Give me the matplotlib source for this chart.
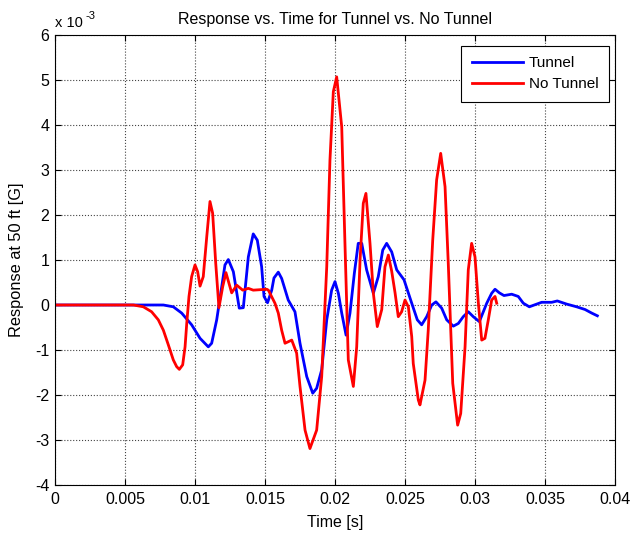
import numpy as np
import matplotlib
matplotlib.use("Agg")
import matplotlib.pyplot as plt
from matplotlib.ticker import FuncFormatter

plt.rcParams['font.family'] = ['Liberation Sans', 'DejaVu Sans']

# Tunnel series: time in ms, response in units of 1e-3 G
tunnel_t_ms = [0, 7.74, 8.45, 9.05, 9.76, 10.36, 10.95, 11.19, 11.55, 11.91, 12.14, 12.38,
               12.74, 13.16, 13.45, 13.81, 14.16, 14.45, 14.76, 14.93, 15.18, 15.48, 15.64, 15.95,
               16.19, 16.66, 17.14, 17.5, 17.98, 18.41, 18.69, 19.05, 19.41, 19.76, 20.0, 20.24,
               20.48, 20.79, 21.07, 21.38, 21.66, 21.91, 22.26, 22.74, 23.09, 23.41, 23.69, 24.05,
               24.41, 24.93, 25.48, 25.88, 26.19, 26.55, 26.91, 27.21, 27.62, 27.98, 28.45, 28.81,
               29.16, 29.52, 29.88, 30.31, 30.84, 31.19, 31.43, 31.74, 32.07, 32.62, 33.09, 33.45,
               33.88, 34.76, 35.48, 35.88, 36.55, 37.26, 37.86, 38.34, 38.74]
tunnel_resp = [0, 0, -0.04, -0.18, -0.44, -0.74, -0.93, -0.85, -0.33, 0.41, 0.89, 1.01,
               0.74, -0.07, -0.06, 1.07, 1.58, 1.44, 0.85, 0.19, 0.05, 0.33, 0.60, 0.73,
               0.59, 0.11, -0.15, -0.85, -1.59, -1.96, -1.85, -1.44, -0.33, 0.33, 0.52, 0.26,
               -0.18, -0.67, -0.18, 0.70, 1.37, 1.37, 0.78, 0.26, 0.63, 1.22, 1.37, 1.18,
               0.78, 0.56, 0.04, -0.33, -0.44, -0.26, 0.0, 0.07, -0.07, -0.33, -0.47, -0.41,
               -0.26, -0.15, -0.26, -0.37, 0.04, 0.26, 0.35, 0.27, 0.21, 0.24, 0.19, 0.04,
               -0.04, 0.06, 0.06, 0.09, 0.02, -0.04, -0.10, -0.18, -0.24]

# No Tunnel series
notunnel_t_ms = [0, 5.6, 6.31, 6.9, 7.38, 7.74, 8.1, 8.45, 8.69, 8.88, 9.12, 9.29, 9.41, 9.57,
                 9.76, 10.0, 10.19, 10.36, 10.59, 10.84, 11.07, 11.26, 11.48, 11.71, 11.98, 12.21,
                 12.62, 12.98, 13.41, 13.81, 14.16, 15.12, 15.24, 15.71, 15.95, 16.19, 16.43,
                 16.91, 17.26, 17.5, 17.86, 18.21, 18.69, 19.05, 19.41, 19.64, 19.88, 20.12,
                 20.48, 20.71, 20.95, 21.31, 21.55, 21.79, 22.02, 22.21, 22.5, 22.74, 23.02,
                 23.34, 23.57, 23.81, 24.05, 24.29, 24.52, 24.76, 25.0, 25.24, 25.48, 25.59,
                 25.95, 26.07, 26.43, 26.66, 26.98, 27.26, 27.55, 27.86, 28.09, 28.41, 28.76,
                 28.98, 29.29, 29.52, 29.76, 30.0, 30.24, 30.48, 30.71, 30.95, 31.19, 31.43, 31.55]
notunnel_resp = [0, 0, -0.04, -0.15, -0.33, -0.56, -0.89, -1.22, -1.37, -1.43, -1.33, -0.93, -0.41, 0.19,
                 0.63, 0.89, 0.74, 0.42, 0.63, 1.52, 2.30, 2.04, 0.93, -0.06, 0.41, 0.72,
                 0.27, 0.44, 0.33, 0.37, 0.33, 0.35, 0.33, 0.04, -0.18, -0.56, -0.85,
                 -0.78, -1.07, -1.81, -2.78, -3.19, -2.78, -1.59, 0.85, 3.22, 4.74, 5.07,
                 3.96, 1.38, -1.22, -1.81, -0.93, 1.0, 2.26, 2.48, 1.37, 0.26, -0.48,
                 -0.10, 0.85, 1.11, 0.75, 0.27, -0.26, -0.15, 0.11, -0.04, -0.70, -1.30,
                 -2.11, -2.22, -1.67, -0.56, 1.44, 2.78, 3.37, 2.63, 0.93, -1.74, -2.67,
                 -2.41, -0.93, 0.78, 1.37, 1.07, 0.04, -0.78, -0.74, -0.33, 0.11, 0.19, 0.04]

x_ticks = [0, 0.005, 0.01, 0.015, 0.02, 0.025, 0.03, 0.035, 0.04]
y_ticks = [-4, -3, -2, -1, 0, 1, 2, 3, 4, 5, 6]

fig = plt.figure(figsize=(6.33, 5.33), dpi=100)
ax = fig.add_axes([55/633, 1-485/533, 560/633, 450/533])

ax.plot(np.array(tunnel_t_ms) / 1000, tunnel_resp, color=(0, 0, 1), lw=2.0, label='Tunnel')
ax.plot(np.array(notunnel_t_ms) / 1000, notunnel_resp, color=(1, 0, 0), lw=2.0, label='No Tunnel')

ax.set_xlim(0, 0.04)
ax.set_ylim(-4, 6)
ax.set_xticks(x_ticks)
ax.set_yticks(y_ticks)
ax.xaxis.set_major_formatter(FuncFormatter(lambda v, p: '%g' % v))
ax.yaxis.set_major_formatter(FuncFormatter(lambda v, p: '%d' % round(v)))
ax.tick_params(direction='in', top=True, right=True, labelsize=11.5, length=4)
ax.tick_params(axis='x', pad=5)
ax.tick_params(axis='y', pad=4)
ax.grid(True, linestyle=':', color='#444444', linewidth=0.8)
for s in ax.spines.values():
    s.set_linewidth(0.8)

ax.set_title('Response vs. Time for Tunnel vs. No Tunnel', fontsize=11.5, pad=8)
ax.set_xlabel('Time [s]', fontsize=11.5, labelpad=6)
ax.set_ylabel('Response at 50 ft [G]', fontsize=11.8, labelpad=8)
ax.text(0.0, 1.012, 'x 10', transform=ax.transAxes, fontsize=10.5, ha='left', va='bottom')
ax.text(0.055, 1.031, '-3', transform=ax.transAxes, fontsize=8, ha='left', va='bottom')

leg = ax.legend(loc='upper right', bbox_to_anchor=(609/633, 1-45.7/533),
                bbox_transform=fig.transFigure, borderaxespad=0,
                fontsize=11, fancybox=False, edgecolor='black',
                framealpha=1, handlelength=3.3, handletextpad=0.4,
                borderpad=0.7, labelspacing=0.45)
leg.get_frame().set_linewidth(0.8)

fig.savefig('out.png', dpi=100)
